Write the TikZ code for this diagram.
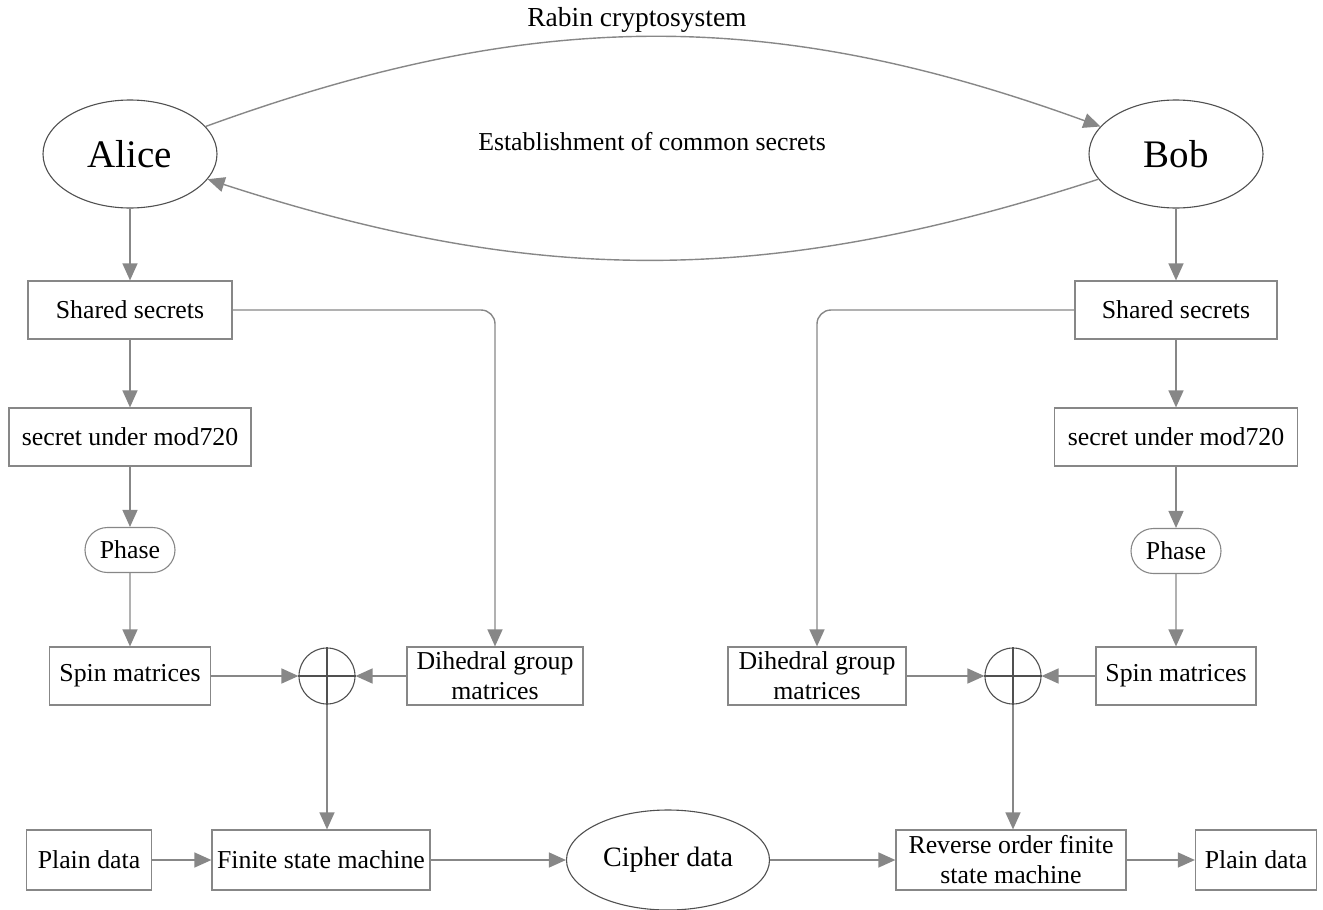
\documentclass[tikz,border=0pt]{standalone}
\usepackage{fontspec}
\setmainfont{Liberation Serif}
\usetikzlibrary{arrows.meta,shapes.geometric,shapes.misc,positioning}
\definecolor{linegray}{RGB}{135,135,135}
\definecolor{edgegray}{RGB}{80,80,80}

\begin{document}
\begin{tikzpicture}[x=1pt,y=1pt,>={Triangle[length=17pt,width=15pt]},
                    every node/.style={font=\fontsize{25.8}{30}\selectfont},
                    box/.style={draw=linegray,line width=1.2pt,minimum height=58pt,align=center,inner sep=2pt},
                    party/.style={ellipse,draw=edgegray,line width=1.1pt,minimum width=174pt,minimum height=108pt,inner sep=0pt,font=\fontsize{39}{44}\selectfont},
                    phase/.style={rounded rectangle,draw=linegray,line width=1.1pt,minimum width=90pt,minimum height=45pt,inner sep=0pt},
                    xorop/.style={circle,draw=edgegray,line width=1.1pt,minimum size=56pt,inner sep=0pt},
                    link/.style={->,color=linegray,line width=1.4pt}]
  \useasboundingbox (0,0) rectangle (1323,-910);

  \node[font=\fontsize{27.5}{32}\selectfont] (title) at (637,-20) {Rabin cryptosystem};
  \node (est) at (652,-142) {Establishment of common secrets};
  \node[party] (alice) at (130,-154) {Alice};
  \node[party] (bob) at (1176,-154) {Bob};

  \node[box,minimum width=204pt] (ssL) at (130,-310) {Shared secrets};
  \node[box,minimum width=242pt] (modL) at (130,-437) {secret under mod720};
  \node[phase] (phL) at (130,-550) {Phase};
  \node[box,minimum width=161pt] (spinL) at (130,-676) {Spin matrices};
  \node[xorop] (xL) at (327,-676) {};
  \node[box,minimum width=176pt] (dihL) at (495,-676) {Dihedral group\\matrices};

  \node[box,minimum width=202pt] (ssR) at (1176,-310) {Shared secrets};
  \node[box,minimum width=243pt] (modR) at (1176,-437) {secret under mod720};
  \node[phase] (phR) at (1176,-551) {Phase};
  \node[box,minimum width=160pt] (spinR) at (1176,-676) {Spin matrices};
  \node[xorop] (xR) at (1013,-676) {};
  \node[box,minimum width=178pt] (dihR) at (817,-676) {Dihedral group\\matrices};

  \node[box,minimum width=125pt,minimum height=60pt] (plainL) at (89,-860) {Plain data};
  \node[box,minimum width=218pt,minimum height=60pt] (fsm) at (321,-860) {Finite state machine};
  \node[ellipse,draw=edgegray,line width=1.1pt,minimum width=203pt,minimum height=100pt,inner sep=0pt,font=\fontsize{28}{32}\selectfont] (cipher) at (668,-860) {Cipher data};
  \node[box,minimum width=230pt,minimum height=60pt] (rev) at (1011,-860) {Reverse order finite\\state machine};
  \node[box,minimum width=121pt,minimum height=60pt] (plainR) at (1256,-860) {Plain data};

  \draw[edgegray,line width=1.1pt] (xL.north) -- (xL.south) (xL.west) -- (xL.east)
                                   (xR.north) -- (xR.south) (xR.west) -- (xR.east);

  \path[link] (alice) edge [bend left=20] (bob)
              (bob)   edge [bend left=18] (alice)
              (alice) edge (ssL)
              (ssL)   edge (modL)
              (modL)  edge (phL)
              (phL)   edge (spinL)
              (spinL) edge (xL)
              (dihL)  edge (xL)
              (bob)   edge (ssR)
              (ssR)   edge (modR)
              (modR)  edge (phR)
              (phR)   edge (spinR)
              (spinR) edge (xR)
              (dihR)  edge (xR)
              (plainL) edge (fsm)
              (fsm)   edge (cipher)
              (cipher) edge (rev)
              (rev)   edge (plainR);
  \draw[link] (xL.south) -- (xL.south |- fsm.north);
  \draw[link] (xR.south) -- (xR.south |- rev.north);
  \draw[link,rounded corners=14pt] (ssL) -| (dihL);
  \draw[link,rounded corners=14pt] (ssR) -| (dihR);
\end{tikzpicture}
\end{document}
